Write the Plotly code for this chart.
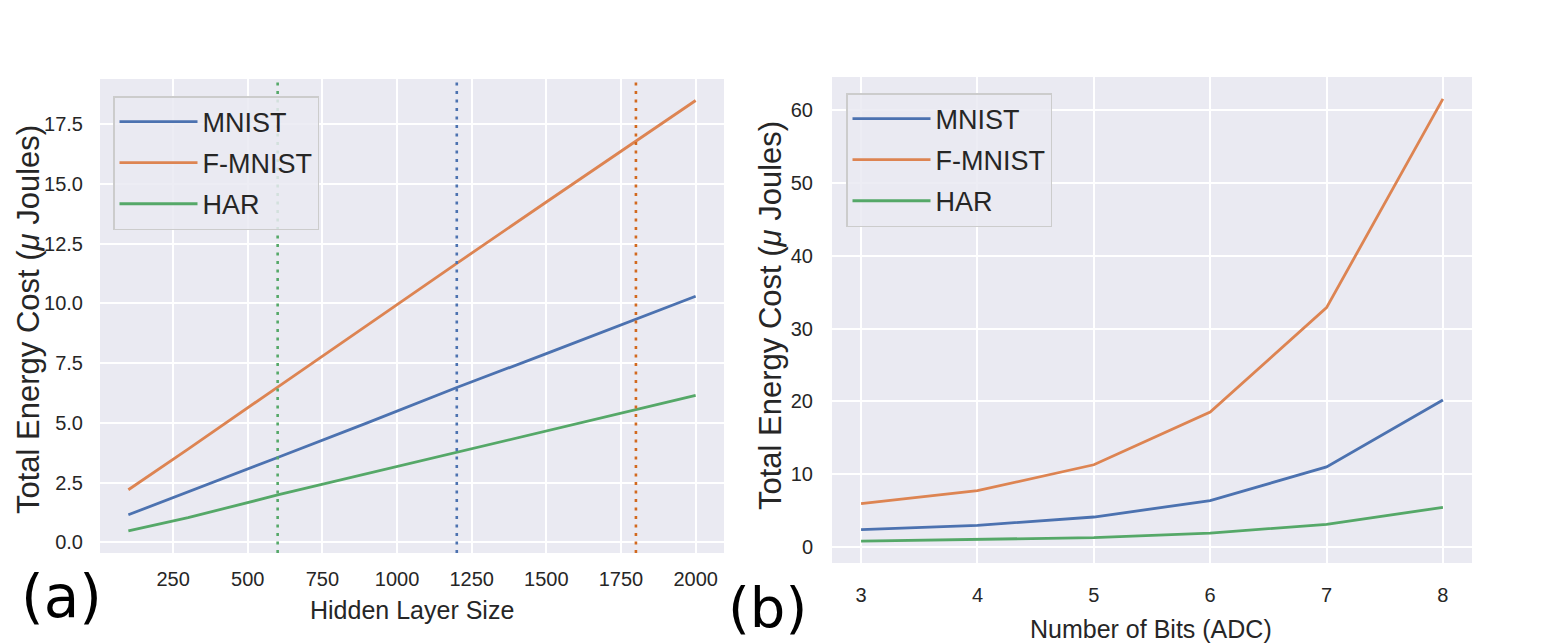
import plotly.graph_objects as go

W, H = 1553, 644
OFF = 8  # page margin the browser puts around the figure

# (a) energy vs hidden layer size
hidden_sizes = [100, 300, 600, 900, 1200, 1500, 1800, 2000]
mnist_hidden = [1.15, 2.1, 3.55, 5.0, 6.48, 7.9, 9.35, 10.3]
fmnist_hidden = [2.2, 3.9, 6.5, 9.1, 11.68, 14.25, 16.8, 18.5]
har_hidden = [0.48, 1.03, 1.98, 2.88, 3.76, 4.66, 5.56, 6.15]

# chosen hidden sizes (dotted markers): HAR, MNIST, F-MNIST
chosen_sizes = [600, 1200, 1800]
chosen_colors = ['#55a868', '#4c72b0', '#d2691e']

# (b) energy vs ADC bits
adc_bits = [3, 4, 5, 6, 7, 8]
mnist_bits = [2.38, 2.98, 4.12, 6.37, 11.0, 20.2]
fmnist_bits = [5.95, 7.74, 11.3, 18.55, 32.9, 61.6]
har_bits = [0.82, 1.0, 1.28, 1.92, 3.11, 5.45]

names = ['MNIST', 'F-MNIST', 'HAR']
colors = ['#4c72b0', '#dd8452', '#55a868']

FONT = 'Liberation Sans, Arial, sans-serif'
TXT = '#262626'


def px(x, y):
    return (x - OFF) / W, 1 - (y - OFF) / H


def xdom(a, b):
    return [px(a, 0)[0], px(b, 0)[0]]


def ydom(top, bottom):
    return [px(0, bottom)[1], px(0, top)[1]]


fig = go.Figure()

for name, ys, c in zip(names, [mnist_hidden, fmnist_hidden, har_hidden], colors):
    fig.add_trace(go.Scatter(x=hidden_sizes, y=ys, name=name, mode='lines',
                             line=dict(color=c, width=2.8), legendgroup='a' + name,
                             xaxis='x', yaxis='y', legend='legend'))

for name, ys, c in zip(names, [mnist_bits, fmnist_bits, har_bits], colors):
    fig.add_trace(go.Scatter(x=adc_bits, y=ys, name=name, mode='lines',
                             line=dict(color=c, width=2.8), legendgroup='b' + name,
                             xaxis='x2', yaxis='y2', legend='legend2'))

for xv, c in zip(chosen_sizes, chosen_colors):
    fig.add_shape(type='line', xref='x', yref='y domain', x0=xv, x1=xv, y0=0, y1=1,
                  line=dict(color=c, width=2.6, dash='3px,5.5px'), layer='above')

axis_common = dict(
    showgrid=True, gridcolor='white', gridwidth=1.6, zeroline=False,
    showline=False, ticks='', automargin=False,
    tickfont=dict(family=FONT, size=20, color=TXT),
)

legend_common = dict(
    xanchor='left', yanchor='top',
    bgcolor='rgba(234,234,242,0.85)', bordercolor='#cccccc', borderwidth=1.5,
    font=dict(family=FONT, size=27, color=TXT), itemwidth=78,
    tracegroupgap=3,
)

fig.update_layout(
    width=W, height=H,
    margin=dict(l=0, r=0, t=0, b=0),
    paper_bgcolor='white', plot_bgcolor='#eaeaf2',
    font=dict(family=FONT, color=TXT),
    xaxis=dict(domain=xdom(100, 724), anchor='y', range=[5, 2095],
               tickvals=[250, 500, 750, 1000, 1250, 1500, 1750, 2000],
               ticklabelstandoff=12, **axis_common),
    yaxis=dict(domain=ydom(79, 553), anchor='x', range=[-0.45, 19.4],
               dtick=2.5, tickformat='.1f', ticklabelstandoff=16, **axis_common),
    xaxis2=dict(domain=xdom(832, 1472), anchor='y2', range=[2.75, 8.25],
                tickvals=adc_bits, ticklabelstandoff=18, **axis_common),
    yaxis2=dict(domain=ydom(77, 563), anchor='x2', range=[-2.2, 64.6],
                dtick=10, ticklabelstandoff=18, **axis_common),
    legend=dict(x=px(113, 96)[0], y=px(113, 96)[1], **legend_common),
    legend2=dict(x=px(846, 93)[0], y=px(846, 93)[1], **legend_common),
)

# axis titles and panel labels, placed in pixels
texts = [
    ('Hidden Layer Size', 412, 610, 0, 25, FONT, TXT),
    ('Number of Bits (ADC)', 1151, 629, 0, 25, FONT, TXT),
    ('Total Energy Cost (<i>μ</i> Joules)', 28, 320, -90, 31, FONT, TXT),
    ('Total Energy Cost (<i>μ</i> Joules)', 770, 316, -90, 31, FONT, TXT),
    ('(a)', 61, 597, 0, 58, 'DejaVu Sans', 'black'),
    ('(b)', 767, 607, 0, 56, 'DejaVu Sans', 'black'),
]
for t, x, y, ang, sz, fam, col in texts:
    ax, ay = px(x, y)
    fig.add_annotation(text=t, x=ax, y=ay, xref='paper', yref='paper',
                       xanchor='center', yanchor='middle', textangle=ang,
                       showarrow=False, font=dict(family=fam, size=sz, color=col))

fig.write_html("out.html")
